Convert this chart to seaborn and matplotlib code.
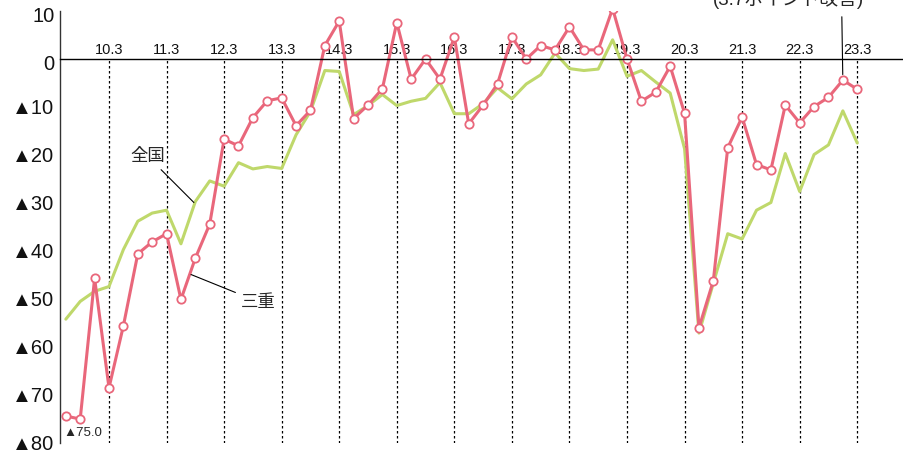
import numpy as np
import pandas as pd
import matplotlib
matplotlib.use("Agg")
import matplotlib.pyplot as plt
import matplotlib.transforms as mtrans
import seaborn as sns

# quarters 09.6 .. 23.3
periods = [f"{y:02d}.{m}" for y in range(9, 24) for m in (3, 6, 9, 12)][1:-3]

mie = [
    -74.4, -75.0, -45.7, -68.5, -55.6, -40.6, -38.1, -36.4, -50.1, -41.5,
    -34.4, -16.7, -18.1, -12.2, -8.7, -8.1, -13.9, -10.7, 2.8, 7.9,
    -12.4, -9.6, -6.2, 7.6, -4.2, 0.0, -4.2, 4.6, -13.5, -9.6,
    -5.2, 4.6, 0.0, 2.8, 1.9, 6.7, 1.9, 1.9, 10.5, 0.0,
    -8.8, -6.9, -1.5, -11.3, -56.0, -46.2, -18.5, -12.1, -22.0, -23.1,
    -9.6, -13.3, -9.9, -8.0, -4.4, -6.3,
]
zenkoku = [
    -54.2, -50.5, -48.4, -47.4, -39.7, -33.8, -32.1, -31.5, -38.5, -29.7,
    -25.4, -26.5, -21.6, -22.9, -22.4, -22.8, -15.8, -10.9, -2.4, -2.6,
    -11.6, -9.7, -7.4, -9.7, -8.8, -8.2, -4.9, -11.4, -11.4, -9.3,
    -6.0, -8.3, -5.2, -3.3, 1.25, -2.0, -2.4, -2.1, 4.0, -3.6,
    -2.4, -4.8, -7.1, -18.7, -57.1, -46.7, -36.4, -37.5, -31.5, -29.9,
    -19.7, -27.6, -19.9, -17.9, -10.8, -17.5,
]

year_ticks = [p for p in periods if p.endswith(".3")]
y_ticks = [10, 0, -10, -20, -30, -40, -50, -60, -70, -80]
y_labels = ["10", "0", "▲10", "▲20", "▲30", "▲40", "▲50", "▲60", "▲70", "▲80"]

PINK = "#E9677B"
GREEN = "#BFD86B"

df = pd.DataFrame({"period": periods, "mie": mie, "zenkoku": zenkoku})
df["pos"] = np.arange(len(df))

sns.set_theme(style="white")
plt.rcParams["font.family"] = ["Liberation Sans", "Noto Sans CJK JP", "DejaVu Sans"]

fig = plt.figure(figsize=(9.04, 4.53), dpi=100)
ax = fig.add_axes([60 / 904, 10 / 453, 844 / 904, 432 / 453])

tick_pos = df.loc[df["period"].isin(year_ticks), "pos"].to_numpy()
ax.vlines(tick_pos, -80, 0, colors="black", linestyles=(0, (2, 2)), linewidth=0.9, zorder=1)

sns.lineplot(data=df, x="pos", y="zenkoku", color=GREEN, linewidth=2.2, ax=ax, zorder=2)
sns.lineplot(data=df, x="pos", y="mie", color=PINK, linewidth=2.2, marker="o",
             markersize=6, markerfacecolor="white", markeredgecolor=PINK,
             markeredgewidth=1.3, ax=ax, zorder=2.2)

ax.set_xlim(-0.405, 58.25)
ax.set_ylim(-80, 10)

for s in ["bottom", "right"]:
    ax.spines[s].set_visible(False)
ax.spines["top"].set_position(("data", 0))
ax.spines["top"].set_color("black")
ax.spines["top"].set_linewidth(1.0)
ax.spines["left"].set_color("#333333")
ax.spines["left"].set_linewidth(1.0)

ax.xaxis.tick_top()
ax.set_xticks(tick_pos)
ax.set_xticklabels(year_ticks, fontsize=10.5, color="#111111")
ax.tick_params(axis="x", length=0, pad=1.5)
ax.set_yticks(y_ticks)
ax.set_yticklabels(y_labels, fontsize=14.5, color="#111111")
ax.tick_params(axis="y", direction="in", length=4, width=1, color="#333333", pad=4)
ax.set_xlabel("")
ax.set_ylabel("")

# the plain "10" and "0" labels sit a bit lower in the original
shift = mtrans.ScaledTranslation(0, -4 / 100, fig.dpi_scale_trans)
for lab in ax.get_yticklabels()[:2]:
    lab.set_transform(lab.get_transform() + shift)

ax.annotate("全国", xy=(8.9, -29.9), xytext=(5.7, -20.3), fontsize=12.5,
            ha="center", va="center",
            arrowprops=dict(arrowstyle="-", color="black", lw=0.8, shrinkA=2, shrinkB=0))
ax.annotate("三重", xy=(8.7, -44.9), xytext=(13.4, -50.6), fontsize=12.5,
            ha="center", va="center",
            arrowprops=dict(arrowstyle="-", color="black", lw=0.8, shrinkA=2, shrinkB=0))
ax.text(-0.2, -78.0, "▲75.0", fontsize=9.5, ha="left", va="center")

ax.annotate("", xy=(54, -4.4), xytext=(53.93, 8.8), annotation_clip=False,
            arrowprops=dict(arrowstyle="-", color="black", lw=0.8, shrinkA=0, shrinkB=4))
ax.text(50.2, 11.2, "(3.7ポイント改善)", fontsize=13.5, ha="center", va="baseline",
        clip_on=False)

fig.savefig("out.png", dpi=100)
